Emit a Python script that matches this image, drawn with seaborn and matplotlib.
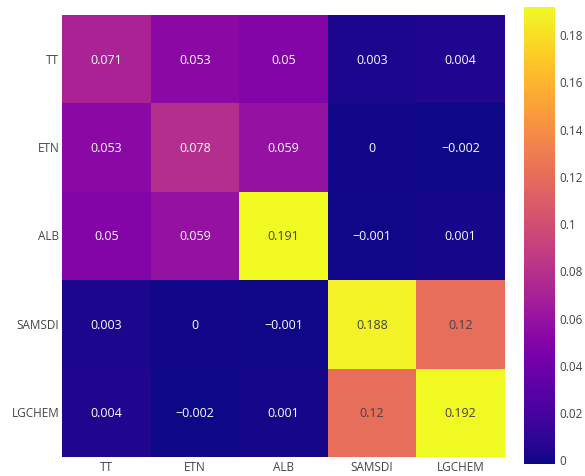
import matplotlib
matplotlib.use("Agg")
import matplotlib.pyplot as plt
import seaborn as sns
import numpy as np
import pandas as pd

labels = ["TT", "ETN", "ALB", "SAMSDI", "LGCHEM"]
row_tt = [0.071, 0.053, 0.05, 0.003, 0.004]
row_etn = [0.053, 0.078, 0.059, 0.0, -0.002]
row_alb = [0.05, 0.059, 0.191, -0.001, 0.001]
row_samsdi = [0.003, 0.0, -0.001, 0.188, 0.12]
row_lgchem = [0.004, -0.002, 0.001, 0.12, 0.192]
cbar_ticks = [0, 0.02, 0.04, 0.06, 0.08, 0.1, 0.12, 0.14, 0.16, 0.18]

df = pd.DataFrame([row_tt, row_etn, row_alb, row_samsdi, row_lgchem],
                  index=labels, columns=labels)
annot = df.map(lambda v: f"{v:g}".replace("-", "\u2212"))

sns.set_style("white")
plt.rcParams["font.family"] = ["Open Sans", "DejaVu Sans"]
grey = "#444444"

fig = plt.figure(figsize=(5.85, 4.77), dpi=100)
ax = fig.add_axes([62 / 585, 1 - 458 / 477, 443 / 585, 442 / 477])
cax = fig.add_axes([524 / 585, 1 - 465 / 477, 31 / 585, 457 / 477])

sns.heatmap(df, ax=ax, cbar_ax=cax, cmap="plasma", vmin=-0.002, vmax=0.1915,
            annot=annot, fmt="", annot_kws={"fontsize": 9},
            cbar_kws={"ticks": cbar_ticks})

for t, v in zip(ax.texts, df.values.flatten()):
    t.set_color(grey if v >= 0.1 else "white")

ax.tick_params(length=0, labelsize=8.5, colors=grey, pad=2)
plt.setp(ax.get_yticklabels(), rotation=0)
plt.setp(ax.get_xticklabels(), rotation=0)
ax.set_xlabel("")
ax.set_ylabel("")

cax.tick_params(length=0, labelsize=8.5, colors=grey, pad=3)
cax.set_yticklabels([f"{t:g}" for t in cbar_ticks])
for s in cax.spines.values():
    s.set_visible(False)

fig.savefig("out.png", dpi=100)
